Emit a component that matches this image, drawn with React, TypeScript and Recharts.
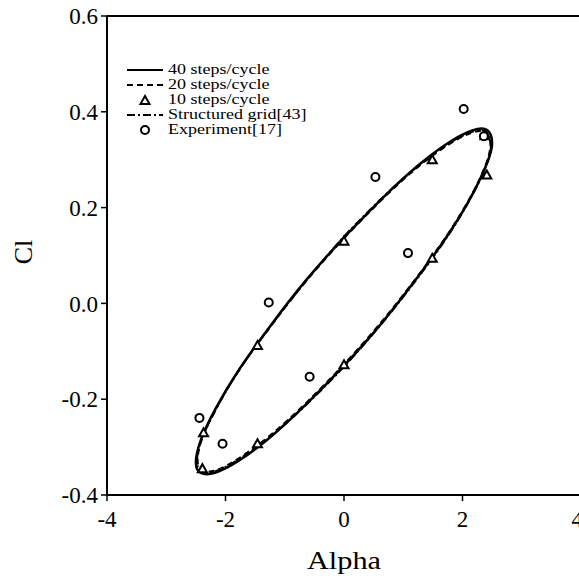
import React from "react";
import {
  ComposedChart,
  Line,
  Scatter,
  XAxis,
  YAxis,
  ReferenceLine,
  Legend,
  Label,
} from "recharts";

// 40 steps/cycle hysteresis loop (alpha, Cl)
const steps40 = [
  { x: 0, y: 0.138 },
  { x: 0.65, y: 0.22 },
  { x: 1.25, y: 0.288 },
  { x: 1.77, y: 0.336 },
  { x: 2.165, y: 0.361 },
  { x: 2.415, y: 0.362 },
  { x: 2.5, y: 0.335 },
  { x: 2.415, y: 0.293 },
  { x: 2.165, y: 0.227 },
  { x: 1.77, y: 0.146 },
  { x: 1.25, y: 0.056 },
  { x: 0.65, y: -0.039 },
  { x: 0, y: -0.13 },
  { x: -0.65, y: -0.212 },
  { x: -1.25, y: -0.28 },
  { x: -1.77, y: -0.328 },
  { x: -2.165, y: -0.353 },
  { x: -2.415, y: -0.354 },
  { x: -2.5, y: -0.332 },
  { x: -2.415, y: -0.285 },
  { x: -2.165, y: -0.219 },
  { x: -1.77, y: -0.138 },
  { x: -1.25, y: -0.048 },
  { x: -0.65, y: 0.047 },
  { x: 0, y: 0.138 },
];

// 20 steps/cycle, a touch inside the solid loop at the tips
const steps20 = [
  { x: 0, y: 0.136 },
  { x: 0.65, y: 0.218 },
  { x: 1.25, y: 0.285 },
  { x: 1.77, y: 0.332 },
  { x: 2.15, y: 0.356 },
  { x: 2.39, y: 0.357 },
  { x: 2.47, y: 0.333 },
  { x: 2.4, y: 0.292 },
  { x: 2.16, y: 0.228 },
  { x: 1.77, y: 0.148 },
  { x: 1.25, y: 0.058 },
  { x: 0.65, y: -0.036 },
  { x: 0, y: -0.127 },
  { x: -0.65, y: -0.209 },
  { x: -1.25, y: -0.276 },
  { x: -1.77, y: -0.323 },
  { x: -2.15, y: -0.348 },
  { x: -2.39, y: -0.349 },
  { x: -2.47, y: -0.329 },
  { x: -2.4, y: -0.284 },
  { x: -2.16, y: -0.22 },
  { x: -1.77, y: -0.139 },
  { x: -1.25, y: -0.05 },
  { x: -0.65, y: 0.045 },
  { x: 0, y: 0.136 },
];

// Structured grid[43]
const structured = [
  { x: 0, y: 0.14 },
  { x: 0.65, y: 0.221 },
  { x: 1.25, y: 0.287 },
  { x: 1.77, y: 0.334 },
  { x: 2.16, y: 0.358 },
  { x: 2.4, y: 0.359 },
  { x: 2.48, y: 0.334 },
  { x: 2.41, y: 0.291 },
  { x: 2.16, y: 0.225 },
  { x: 1.77, y: 0.144 },
  { x: 1.25, y: 0.054 },
  { x: 0.65, y: -0.04 },
  { x: 0, y: -0.132 },
  { x: -0.65, y: -0.213 },
  { x: -1.25, y: -0.279 },
  { x: -1.77, y: -0.325 },
  { x: -2.16, y: -0.35 },
  { x: -2.4, y: -0.351 },
  { x: -2.48, y: -0.33 },
  { x: -2.41, y: -0.286 },
  { x: -2.16, y: -0.221 },
  { x: -1.77, y: -0.139 },
  { x: -1.25, y: -0.049 },
  { x: -0.65, y: 0.046 },
  { x: 0, y: 0.14 },
];

const steps10 = [
  { x: 0, y: 0.13 },
  { x: 1.49, y: 0.3 },
  { x: 2.38, y: 0.35 },
  { x: 2.41, y: 0.268 },
  { x: 1.49, y: 0.094 },
  { x: 0, y: -0.128 },
  { x: -1.46, y: -0.293 },
  { x: -2.39, y: -0.345 },
  { x: -2.37, y: -0.27 },
  { x: -1.46, y: -0.088 },
];

const experiment = [
  { x: 2.02, y: 0.406 },
  { x: 2.36, y: 0.349 },
  { x: 0.53, y: 0.264 },
  { x: 1.08, y: 0.105 },
  { x: -1.27, y: 0.002 },
  { x: -0.58, y: -0.153 },
  { x: -2.05, y: -0.293 },
  { x: -2.44, y: -0.239 },
];

const xTicks = [-4, -2, 0, 2, 4];
const yTicks = [-0.4, -0.2, 0, 0.2, 0.4, 0.6];

const legendRows = [
  { label: "40 steps/cycle", kind: "solid" },
  { label: "20 steps/cycle", kind: "dashed" },
  { label: "10 steps/cycle", kind: "triangle" },
  { label: "Structured grid[43]", kind: "dashdot" },
  { label: "Experiment[17]", kind: "circle" },
];

const FONT = "'Liberation Serif', 'Times New Roman', serif";

function Triangle(props: any) {
  const { cx, cy } = props;
  if (cx == null || cy == null) return null;
  return (
    <path
      d={`M${cx},${cy - 4.5} L${cx + 4.5},${cy + 3.5} L${cx - 4.5},${cy + 3.5} Z`}
      fill="#fff"
      stroke="#000"
      strokeWidth={2}
    />
  );
}

function Circle(props: any) {
  const { cx, cy } = props;
  if (cx == null || cy == null) return null;
  return <circle cx={cx} cy={cy} r={4} fill="#fff" stroke="#000" strokeWidth={2} />;
}

function LegendSample({ kind }: { kind: string }) {
  if (kind === "triangle")
    return <path d="M18,2 L22.5,10 L13.5,10 Z" fill="#fff" stroke="#000" strokeWidth={2} />;
  if (kind === "circle") return <circle cx={18} cy={6} r={4} fill="#fff" stroke="#000" strokeWidth={2} />;
  const dash = kind === "dashed" ? "6 4" : kind === "dashdot" ? "8 3 2 3" : undefined;
  return <line x1={0} y1={6} x2={36} y2={6} stroke="#000" strokeWidth={2} strokeDasharray={dash} />;
}

function LegendBox() {
  return (
    <div style={{ fontFamily: FONT, fontSize: 15, color: "#000", whiteSpace: "nowrap" }}>
      {legendRows.map((r) => (
        <div key={r.label} style={{ display: "flex", alignItems: "center", height: 15 }}>
          <svg width={36} height={12} style={{ marginRight: 5 }}>
            <LegendSample kind={r.kind} />
          </svg>
          <span
            style={{
              display: "inline-block",
              lineHeight: "15px",
              transform: "scaleX(1.2)",
              transformOrigin: "left center",
            }}
          >
            {r.label}
          </span>
        </div>
      ))}
    </div>
  );
}

export default function App() {
  return (
    <div style={{ width: 579, height: 578, overflow: "hidden", background: "#fff" }}>
      <style>{"body{margin:0}"}</style>
      <ComposedChart width={583} height={578} margin={{ top: 16, right: 2, left: 0, bottom: 0 }}>
        <XAxis
          type="number"
          dataKey="x"
          domain={[-4, 4]}
          ticks={xTicks}
          allowDataOverflow
          height={83}
          axisLine={{ stroke: "#000", strokeWidth: 2 }}
          tickLine={{ stroke: "#000", strokeWidth: 1.5 }}
          tickSize={6}
          tickMargin={10}
          tick={{ fill: "#000", fontSize: 23, fontFamily: FONT }}
        >
          <Label
            content={() => (
              <text
                x={344}
                y={569}
                textAnchor="middle"
                fontSize={25}
                fontFamily={FONT}
                fill="#000"
                textLength={74}
                lengthAdjust="spacingAndGlyphs"
              >
                Alpha
              </text>
            )}
          />
        </XAxis>
        <YAxis
          type="number"
          dataKey="y"
          domain={[-0.4, 0.6]}
          ticks={yTicks}
          allowDataOverflow
          width={107}
          axisLine={{ stroke: "#000", strokeWidth: 2 }}
          tickLine={{ stroke: "#000", strokeWidth: 1.5 }}
          tickSize={6}
          tickMargin={3}
          tickFormatter={(v: number) => v.toFixed(1)}
          tick={{ fill: "#000", fontSize: 23, fontFamily: FONT }}
        >
          <Label
            content={() => (
              <text
                x={32}
                y={252}
                transform="rotate(-90 32 252)"
                textAnchor="middle"
                fontSize={26}
                fontFamily={FONT}
                fill="#000"
              >
                Cl
              </text>
            )}
          />
        </YAxis>
        <ReferenceLine y={0.6} stroke="#000" strokeWidth={2} />
        <Legend
          layout="vertical"
          align="center"
          verticalAlign="middle"
          content={() => <LegendBox />}
          wrapperStyle={{ position: "absolute", left: 127, top: 62, width: "auto", height: "auto" }}
        />
        <Line
          data={structured}
          dataKey="y"
          type="natural"
          stroke="#000"
          strokeWidth={2}
          strokeDasharray="8 3 2 3"
          dot={false}
          activeDot={false}
          isAnimationActive={false}
          legendType="none"
        />
        <Line
          data={steps20}
          dataKey="y"
          type="natural"
          stroke="#000"
          strokeWidth={2}
          strokeDasharray="6 4"
          dot={false}
          activeDot={false}
          isAnimationActive={false}
          legendType="none"
        />
        <Line
          data={steps40}
          dataKey="y"
          type="natural"
          stroke="#000"
          strokeWidth={2.5}
          dot={false}
          activeDot={false}
          isAnimationActive={false}
          legendType="none"
        />
        <Scatter data={steps10} dataKey="y" shape={Triangle} isAnimationActive={false} legendType="none" />
        <Scatter data={experiment} dataKey="y" shape={Circle} isAnimationActive={false} legendType="none" />
      </ComposedChart>
    </div>
  );
}
